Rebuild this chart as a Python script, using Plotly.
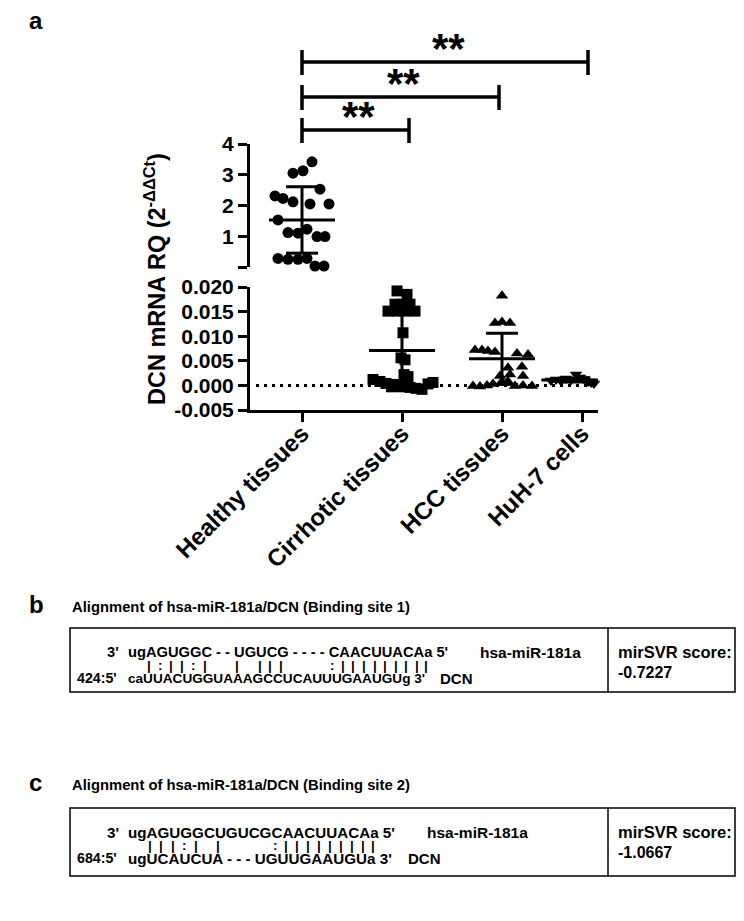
import plotly.graph_objects as go

W, H = 744, 921
FONT = "Liberation Sans, Arial, sans-serif"

# ---------------- data ----------------
categories = ["Healthy tissues", "Cirrhotic tissues", "HCC tissues", "HuH-7 cells"]

healthy = [3.42, 3.05, 3.13, 2.53, 2.31, 2.23, 2.12, 2.05, 2.05, 1.53, 1.12,
           1.10, 1.23, 0.99, 0.99, 0.28, 0.25, 0.25, 0.28, 0.03, 0.03]
cirrhotic = [0.0242, 0.0192, 0.0185, 0.0165, 0.0165, 0.0165, 0.0151, 0.0151,
             0.0151, 0.0151, 0.0107, 0.0056, 0.0052, 0.0022, 0.0012, 0.0008,
             0.0004, 0.0002, 0.0001, -0.0002, -0.0004, -0.0006, -0.0008,
             0.0003, 0.0006, 0.0001, 0.0018]
hcc = [0.0182, 0.0127, 0.0129, 0.0127, 0.0072, 0.0072, 0.0070, 0.0068, 0.0065,
       0.0063, 0.0036, 0.0038, 0.0019, 0.0022, 0.0019, -0.0001, -0.0002,
       0.0000, 0.0003, 0.0008, 0.0008, -0.0001, 0.0000, -0.0001]
huh7 = [0.0010, 0.0012, 0.0009, 0.0014, 0.0011, 0.0022, 0.0016, 0.0013,
        0.0008, 0.0006, 0.0004]

group_mean = [1.53, 0.0071, 0.0054, 0.0011]
group_sd = [1.08, 0.0082, 0.0052, 0.0004]

upper_ticks = [0, 1, 2, 3, 4]
upper_ticklabels = ["", "1", "2", "3", "4"]
lower_ticks = [-0.005, 0.0, 0.005, 0.010, 0.015, 0.020]
lower_ticklabels = ["-0.005", "0.000", "0.005", "0.010", "0.015", "0.020"]

sig_pairs = [(0, 1), (0, 2), (0, 3)]
sig_labels = ["**", "**", "**"]

site1_mir_parts = ["ug", "AGUGGC", " - - ", "UGUCG", " - - - - ", "CAACUUACAa"]
site1_pair_parts = ["  ", "|:||:|", "     ", "| |||", "         ", ":|||||||||"]
site1_dcn = "caUUACUGGUAAAGCCUCAUUUGAAUGUg"
site1_pos = "424:5'"
site1_score = "-0.7227"

site2_mir_parts = ["ug", "AGUGGCU", "GUCG", "CAACUUACAa"]
site2_pair_parts = ["  ", "|||:| |", "    ", ":|||||||||"]
site2_dcn = "ugUCAUCUA - - - UGUUGAAUGUa"
site2_pos = "684:5'"
site2_score = "-1.0667"

mir_name = "hsa-miR-181a"
target_name = "DCN"

# ---------------- layout positions (pixels) ----------------
cat_pos = [0, 1, 2, 2.8]          # column centres on the x scale
healthy_dx = [10, -9, 1, 18, -27, -19, -9, 8, 27, -24, -14, -4, 5, 15, 23,
              -24, -14, -4, 5, 13, 22]
cirr_dx = [1, -5, 5, -7, 0, 8, -14, -5, 3, 13, 1, -1, 3, 2, -29, -22, -16,
           -10, -4, 2, 8, 14, 20, 26, 31, -8, 6]
hcc_dx = [0, -7, 0, 8, -27, -20, -14, -7, 15, 26, 6, 20, -2, 8, 21, -29, -22,
          -15, -9, 0, 6, 13, 21, 30]
huh_dx = [-31, -26, -21, -16, -11, -6, -2, 2, 6, 9, 12]
bar_end_dx = [7, -3, 6]           # small offsets of bracket right ends (px)

def px(x):
    return x / W

def py(y):
    return 1 - y / H

X_LEFT, X_RIGHT = 250, 598
CAT0, STEP = 302, 100
xr = [(X_LEFT - CAT0) / STEP, (X_RIGHT - CAT0) / STEP]

fig = go.Figure()

groups = [
    (healthy, healthy_dx, "circle", "y2"),
    (cirrhotic, cirr_dx, "square", "y"),
    (hcc, hcc_dx, "triangle-up", "y"),
    (huh7, huh_dx, "triangle-down", "y"),
]

fig.add_trace(go.Scatter(x=[xr[0] + 0.06, xr[1] - 0.05], y=[0, 0], mode="lines",
                         line=dict(color="black", width=3, dash="3px,5px"),
                         yaxis="y", hoverinfo="skip", showlegend=False))

for i, (vals, dx, sym, ya) in enumerate(groups):
    c = cat_pos[i]
    fig.add_trace(go.Scatter(
        x=[c + d / STEP for d in dx], y=vals, mode="markers",
        marker=dict(symbol=sym, size=11, color="black", line=dict(width=0)),
        yaxis=ya, cliponaxis=False, showlegend=False))

for i, (vals, dx, sym, ya) in enumerate(groups):
    c = cat_pos[i] + (sum(dx) / len(dx) / STEP if i == 3 else 0)
    m, s = group_mean[i], group_sd[i]
    xs = [c - 0.33, c + 0.33, None, c, c, None,
          c - 0.16, c + 0.16, None, c - 0.16, c + 0.16]
    ys = [m, m, None, m - s, m + s, None, m + s, m + s, None, m - s, m - s]
    fig.add_trace(go.Scatter(x=xs, y=ys, mode="lines",
                             line=dict(color="black", width=3),
                             yaxis=ya, cliponaxis=False, showlegend=False))

axis_common = dict(showline=True, linewidth=3, linecolor="black", ticks="outside",
                   ticklen=9, tickwidth=3, tickcolor="black", showgrid=False,
                   zeroline=False, automargin=False)
tick_font = dict(family=FONT, size=21, color="black", weight="bold")

fig.update_layout(
    width=W, height=H, margin=dict(l=0, r=0, t=0, b=0, autoexpand=False),
    paper_bgcolor="white", plot_bgcolor="white", showlegend=False,
    xaxis=dict(domain=[px(X_LEFT), px(X_RIGHT)], range=xr, tickmode="array",
               tickvals=cat_pos, ticktext=categories,
               tickangle=-45, anchor="y", ticklabelstandoff=-12, **axis_common,
               tickfont=dict(family=FONT, size=24, color="black", weight="bold")),
    yaxis=dict(domain=[py(410), py(287)], range=[-0.005, 0.020], tickmode="array",
               tickvals=lower_ticks, ticktext=lower_ticklabels, anchor="x",
               tickfont=tick_font, **axis_common),
    yaxis2=dict(domain=[py(267), py(144)], range=[0, 4], tickmode="array",
                tickvals=upper_ticks, ticktext=upper_ticklabels, anchor="x",
                tickfont=tick_font, **axis_common),
)

shapes = []
annotations = []

annotations.append(dict(x=px(155), y=py(279), xref="paper", yref="paper",
                        text="DCN mRNA RQ (2<sup>-ΔΔCt</sup>)", showarrow=False,
                        textangle=-90, xanchor="center", yanchor="middle",
                        font=dict(family=FONT, size=23.5, color="black",
                                  weight="bold")))

bar_y = [130, 97, 62]
for (a, b), lab, yb, ed in zip(sig_pairs, sig_labels, bar_y, bar_end_dx):
    xa, xb = cat_pos[a], cat_pos[b] + ed / STEP
    shapes.append(dict(type="line", xref="x", yref="paper", x0=xa, x1=xb,
                       y0=py(yb), y1=py(yb), line=dict(color="black", width=3.5)))
    for xx in (xa, xb):
        shapes.append(dict(type="line", xref="x", yref="paper", x0=xx, x1=xx,
                           y0=py(yb - 12), y1=py(yb + 13),
                           line=dict(color="black", width=3.5)))
    annotations.append(dict(x=(xa + xb) / 2 + 0.03, y=py(yb - 14), xref="x",
                            yref="paper", text=lab, showarrow=False,
                            xanchor="center", yanchor="middle",
                            font=dict(family=FONT, size=42, color="black",
                                      weight="bold")))

for letter, yy in (("a", 20), ("b", 604), ("c", 782)):
    annotations.append(dict(x=px(27), y=py(yy), xref="paper", yref="paper",
                            text=letter, showarrow=False, xanchor="left",
                            yanchor="middle",
                            font=dict(family=FONT, size=24, color="black",
                                      weight="bold")))

ADV = {" ": 278, "'": 238, "-": 333, ":": 333, "|": 280, "A": 722, "C": 722,
       "G": 778, "U": 722, "a": 556, "c": 556, "g": 611, "u": 611}

def text_width(text, fs):
    return sum(ADV.get(ch, 556) for ch in text) * fs / 1000

def char_centres(text, x0, fs):
    out, cur = [], x0
    for ch in text:
        w = ADV.get(ch, 556) * fs / 1000
        out.append(cur + w / 2)
        cur += w
    return out

def txt(x, y, t, size, anchor="left"):
    annotations.append(dict(x=px(x), y=py(y), xref="paper", yref="paper", text=t,
                            showarrow=False, xanchor=anchor, yanchor="middle",
                            font=dict(family=FONT, size=size, color="black",
                                      weight="bold")))

def alignment_panel(title_y, box_top, box_bot, mir_parts, pair_parts, dcn, pos,
                    score, title, fs_mir, fs_dcn, name_gap):
    txt(70, title_y, title, 14.8)
    shapes.append(dict(type="rect", xref="paper", yref="paper", x0=px(70),
                       x1=px(735), y0=py(box_bot), y1=py(box_top),
                       line=dict(color="black", width=1.5)))
    shapes.append(dict(type="line", xref="paper", yref="paper", x0=px(608),
                       x1=px(608), y0=py(box_bot), y1=py(box_top),
                       line=dict(color="black", width=1.5)))
    l1, l2, l3 = box_top + 24, box_top + 37, box_top + 50
    mir = "".join(mir_parts)
    pairs = "".join(pair_parts)
    x_seq = 126
    txt(105, l1, "3'", fs_mir)
    s1 = mir + " 5'"
    txt(x_seq, l1, s1, fs_mir)
    txt(x_seq + text_width(s1, fs_mir) + name_gap, l1, mir_name, 15.5)
    for cx, ch in zip(char_centres(mir, x_seq, fs_mir), pairs):
        if ch != " ":
            txt(cx, l2, ch, 13.5, anchor="center")
    txt(75, l3, pos, 14.2)
    s3 = dcn + " 3'"
    txt(x_seq, l3, s3, fs_dcn)
    txt(x_seq + text_width(s3, fs_dcn) + 15, l3, target_name, 15)
    txt(616, box_top + 24, "mirSVR score:", 16.5)
    txt(616, box_top + 44, score, 16)

alignment_panel(607, 628, 692, site1_mir_parts, site1_pair_parts, site1_dcn,
                site1_pos, site1_score,
                "Alignment of hsa-miR-181a/DCN (Binding site 1)", 14.7, 13.6, 32)
alignment_panel(785, 808, 876, site2_mir_parts, site2_pair_parts, site2_dcn,
                site2_pos, site2_score,
                "Alignment of hsa-miR-181a/DCN (Binding site 2)", 15.2, 15.2, 32)

fig.update_layout(shapes=shapes, annotations=annotations)
fig.write_html("out.html", config={"displayModeBar": False},
               post_script="document.body.style.margin='0px';"
                           "document.body.style.padding='0px';")
